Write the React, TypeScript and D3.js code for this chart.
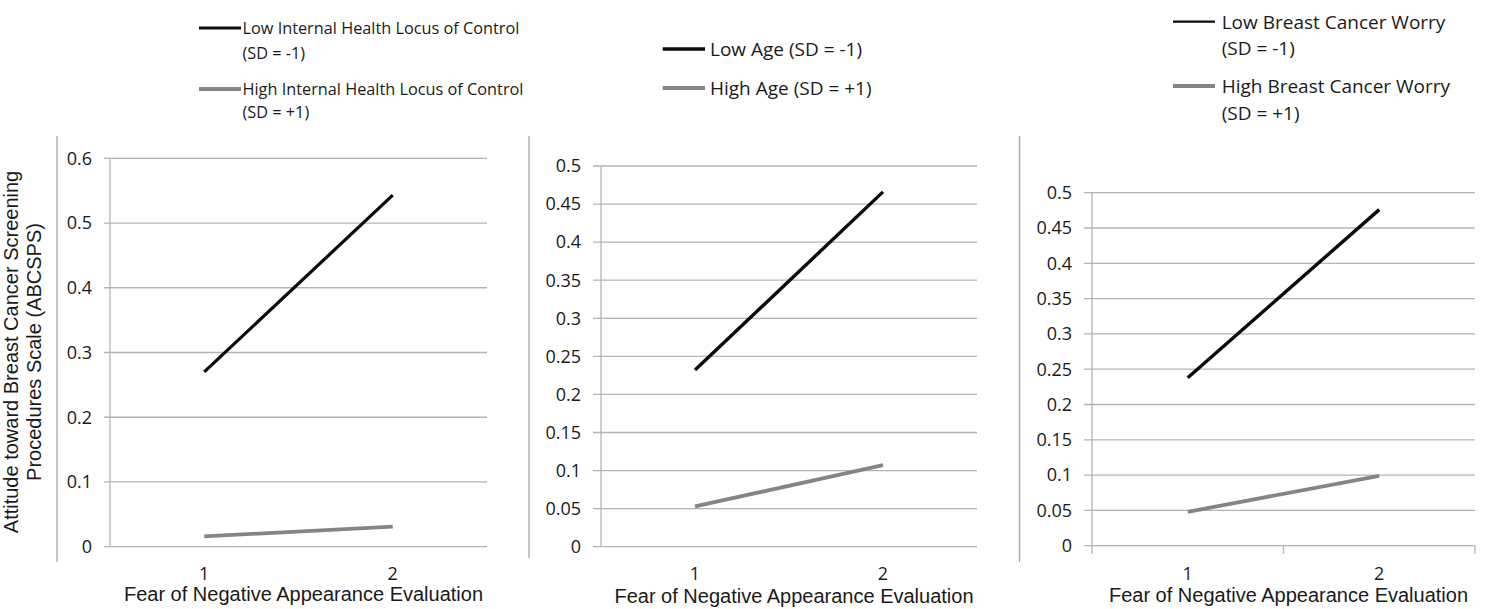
import * as d3 from 'd3';
import React from 'react';

// values
const categories = ['1', '2'];
const xAxisTitle = 'Fear of Negative Appearance Evaluation';
const yAxisTitle = ['Attitude toward Breast Cancer Screening', 'Procedures Scale (ABCSPS)'];

const locusLow = [0.27, 0.543];
const locusHigh = [0.016, 0.031];
const ageLow = [0.232, 0.466];
const ageHigh = [0.053, 0.107];
const worryLow = [0.238, 0.476];
const worryHigh = [0.048, 0.099];

const locusTicks = [0, 0.1, 0.2, 0.3, 0.4, 0.5, 0.6];
const halfTicks = [0, 0.05, 0.1, 0.15, 0.2, 0.25, 0.3, 0.35, 0.4, 0.45, 0.5];

const locusLegend = [
  ['Low Internal Health Locus of Control', '(SD = -1)'],
  ['High Internal Health Locus of Control', '(SD = +1)'],
];
const ageLegend = [['Low Age (SD = -1)'], ['High Age (SD = +1)']];
const worryLegend = [
  ['Low Breast Cancer Worry', '(SD = -1)'],
  ['High Breast Cancer Worry', '(SD = +1)'],
];

const W = 1509;
const H = 609;
const GRID = '#b4b4b4';
const FRAME = '#a8a8a8';
const BLACK = '#0a0a0a';
const GRAY = '#858585';
const TEXT = '#1a1a1a';
const LABEL_FONT = '"Open Sans", sans-serif';
const TITLE_FONT = '"Liberation Sans", Arial, sans-serif';

type PanelProps = {
  low: number[];
  high: number[];
  ticks: number[];
  legend: string[][];
  left: number;
  right: number;
  top: number;
  bottom: number;
  tickLen: number;
  xTicks: boolean;
  frameX: number;
  frameBottom: number;
  lowWidth: number;
  highWidth: number;
  legendLine: [number, number];
  legendX: number;
  legendRows: number[][];
  legendFont: number;
  legendWidths: number[];
  titleY: number;
};

const Panel: React.FC<PanelProps> = (p) => {
  const x = d3.scaleBand<string>().domain(categories).range([p.left, p.right]);
  const cx = (c: string) => (x(c) ?? 0) + x.bandwidth() / 2;
  const y = d3
    .scaleLinear()
    .domain([0, d3.max(p.ticks) || 1])
    .range([p.bottom, p.top]);

  const line = d3
    .line<number>()
    .x((_, i) => cx(categories[i]))
    .y((d) => y(d));

  const series = [
    { values: p.low, color: BLACK, width: p.lowWidth },
    { values: p.high, color: GRAY, width: p.highWidth },
  ];

  const fmt = (v: number) => String(+v.toFixed(2));

  return (
    <g>
      <line x1={p.frameX} x2={p.frameX} y1={136} y2={p.frameBottom} stroke={FRAME} strokeWidth={1.3} />

      {p.ticks.map((t) => (
        <g key={t}>
          <line x1={p.left - p.tickLen} x2={p.right} y1={y(t)} y2={y(t)} stroke={GRID} strokeWidth={1.3} />
          <text
            x={p.left - p.tickLen - 12}
            y={y(t) + 6.3}
            textAnchor="end"
            fontFamily={LABEL_FONT}
            fontSize={18}
            fill={TEXT}
          >
            {fmt(t)}
          </text>
        </g>
      ))}

      <line x1={p.left} x2={p.left} y1={p.top} y2={p.bottom} stroke={GRID} strokeWidth={1.3} />

      {p.xTicks &&
        [p.left, p.left + x.bandwidth(), p.right].map((tx) => (
          <line key={tx} x1={tx} x2={tx} y1={p.bottom} y2={p.bottom + 8} stroke={GRID} strokeWidth={1.3} />
        ))}

      {categories.map((c) => (
        <text
          key={c}
          x={cx(c)}
          y={580}
          textAnchor="middle"
          fontFamily={LABEL_FONT}
          fontSize={18}
          fill={TEXT}
        >
          {c}
        </text>
      ))}

      <text
        x={(p.left + p.right) / 2 + 5}
        y={p.titleY}
        textAnchor="middle"
        fontFamily={TITLE_FONT}
        fontSize={20}
        fill={TEXT}
      >
        {xAxisTitle}
      </text>

      {series.map((s, i) => (
        <path key={i} d={line(s.values) || ''} fill="none" stroke={s.color} strokeWidth={s.width} />
      ))}

      {p.legend.map((rows, i) => (
        <g key={i}>
          <line
            x1={p.legendLine[0]}
            x2={p.legendLine[1]}
            y1={p.legendRows[i][0]}
            y2={p.legendRows[i][0]}
            stroke={i === 0 ? BLACK : GRAY}
            strokeWidth={p.legendWidths[i]}
          />
          {rows.map((r, j) => (
            <text
              key={j}
              x={p.legendX}
              y={p.legendRows[i][j] + p.legendFont * 0.36}
              fontFamily={LABEL_FONT}
              fontSize={p.legendFont}
              fill={TEXT}
            >
              {r}
            </text>
          ))}
        </g>
      ))}
    </g>
  );
};

export default function App() {
  return (
    <div style={{ position: 'absolute', left: 0, top: 0, width: W, height: H, background: '#fff' }}>
      <svg width={W} height={H} style={{ display: 'block' }}>
        <rect width={W} height={H} fill="#fff" />

        <g fontFamily={TITLE_FONT} fontSize={20} fill={TEXT}>
          {yAxisTitle.map((t, i) => (
            <text key={i} transform={`translate(${18 + i * 23},352) rotate(-90)`} textAnchor="middle">
              {t}
            </text>
          ))}
        </g>

        <Panel
          low={locusLow}
          high={locusHigh}
          ticks={locusTicks}
          legend={locusLegend}
          left={110}
          right={487}
          top={158.3}
          bottom={546.7}
          tickLen={6}
          xTicks={false}
          frameX={57}
          frameBottom={562}
          lowWidth={3.2}
          highWidth={3.8}
          legendLine={[199, 241]}
          legendX={242.5}
          legendRows={[[28, 53], [89, 112]]}
          legendFont={16.3}
          legendWidths={[3.2, 3.8]}
          titleY={601}
        />
        <Panel
          low={ageLow}
          high={ageHigh}
          ticks={halfTicks}
          legend={ageLegend}
          left={601}
          right={977}
          top={166}
          bottom={546.7}
          tickLen={8}
          xTicks={false}
          frameX={529}
          frameBottom={558}
          lowWidth={3.4}
          highWidth={3.8}
          legendLine={[662.7, 705]}
          legendX={710}
          legendRows={[[49], [88]]}
          legendFont={19}
          legendWidths={[3.6, 3.8]}
          titleY={603}
        />
        <Panel
          low={worryLow}
          high={worryHigh}
          ticks={halfTicks}
          legend={worryLegend}
          left={1092}
          right={1475}
          top={192.7}
          bottom={545.7}
          tickLen={8}
          xTicks={true}
          frameX={1019.5}
          frameBottom={562}
          lowWidth={3.4}
          highWidth={3.8}
          legendLine={[1173, 1215]}
          legendX={1221.7}
          legendRows={[[21.7, 48], [86, 113]]}
          legendFont={19}
          legendWidths={[2.2, 3.8]}
          titleY={602}
        />
      </svg>
    </div>
  );
}
